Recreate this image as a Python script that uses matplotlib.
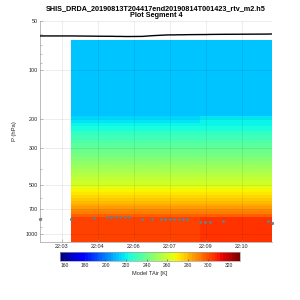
import numpy as np
import matplotlib
matplotlib.use("Agg")
import matplotlib.pyplot as plt
from matplotlib.ticker import FixedLocator, NullFormatter

plt.rcParams['font.family'] = ['Liberation Sans', 'DejaVu Sans']

# profile times, minutes after 22:00
t_min = [2.10, 3.40, 4.35, 4.89, 5.075, 5.26, 5.45, 5.64, 5.82, 6.37, 6.76, 7.14,
         7.32, 7.50, 7.68, 7.875, 8.05, 8.23, 8.78, 8.98, 9.17, 9.73, 11.60, 11.77]
# surface pressure (gray dots)
p_sfc = [813, 812, 795, 784, 784, 784, 784, 784, 784, 802, 802, 802,
         802, 802, 802, 813, 813, 813, 845, 845, 845, 830, 825, 857]
# black line at top
p_line = [62.0, 62.0, 62.2, 62.3, 62.3, 62.4, 62.4, 62.5, 62.5, 62.4, 61.8, 61.4,
          61.2, 61.1, 61.1, 61.0, 61.0, 60.9, 60.8, 60.8, 60.7, 60.6, 60.4, 60.3]

# model pressure level edges (hPa)
p_edges = [66, 75, 90, 105, 118, 135, 160, 190, 200, 210, 220, 235, 250, 265, 280, 300,
           320, 340, 360, 380, 400, 425, 450, 475, 500, 525, 550, 575, 600, 625, 650,
           675, 700, 725, 750, 780, 1150]

# model air temperature profiles (K), one per model column
t_a = [210.5, 210.5, 211, 211, 212.5, 212.5, 212.5, 215, 218, 221, 224, 227, 230, 233, 236,
       239, 242, 245, 247.5, 250, 253, 256, 259, 262, 265, 268, 271, 274, 277, 280, 283,
       286, 289, 292, 296, 303]
t_b = [210.5, 210.5, 211, 211, 212.5, 212.5, 212.5, 215, 218, 221, 224, 227, 230, 233, 236,
       239, 242, 245, 247.5, 250, 253, 256, 259, 262, 265, 268, 271, 274, 277, 280, 283,
       286, 289, 292, 296, 301]
t_c = [210.5, 210.5, 210.5, 210.5, 210.5, 212.5, 212.5, 215, 218, 221, 224, 227, 230, 233, 236,
       239, 242, 245, 247.5, 250, 253, 256, 259, 262, 265, 268, 271, 274, 277, 280, 283,
       286, 289, 292, 296, 303]
t_d = [210.5, 210.5, 210.5, 210.5, 210.5, 212.5, 212.5, 217, 219, 221, 224, 227, 230, 233, 236,
       239, 242, 245, 247.5, 250, 253, 256, 259, 262, 265, 268, 271, 274, 277, 280, 283,
       286, 289, 292, 297, 304]
# which model column each profile interval uses (first interval has no data)
col_group = [None, 'a', 'a', 'b', 'b', 'b', 'b', 'b', 'b', 'c', 'c', 'c',
             'c', 'c', 'c', 'c', 'c', 'c', 'd', 'd', 'd', 'd', 'd']

profiles = {'a': t_a, 'b': t_b, 'c': t_c, 'd': t_d}
C = np.full((len(p_edges) - 1, len(t_min) - 1), np.nan)
for i, g in enumerate(col_group):
    if g is not None:
        C[:, i] = profiles[g]

xt = [3, 4.5, 6, 7.5, 9, 10.5]
xtl = ['22:03', '22:04', '22:06', '22:07', '22:09', '22:10']
yt = [50, 100, 200, 300, 500, 700, 1000]
cb_ticks = [160, 180, 200, 220, 240, 260, 280, 300, 320]

txt = '#262626'
fig = plt.figure(figsize=(3, 3), dpi=100)
ax = fig.add_axes([40 / 300, 1 - 241.7 / 300, 232 / 300, 221.1 / 300])

cmap = plt.get_cmap('jet', 64)
mesh = ax.pcolormesh(t_min, p_edges, C, cmap=cmap, vmin=155.8, vmax=330.7, shading='flat')
ax.plot(t_min, p_line, color='black', lw=1.0, zorder=3)
ax.plot(t_min, p_sfc, 'o', color='#808080', ms=2.0, mec='#707070', mew=0.3, zorder=4,
        clip_on=False)

ax.set_yscale('log')
ax.set_ylim(1110, 50)
ax.set_xlim(t_min[0], t_min[-1])
ax.yaxis.set_major_locator(FixedLocator(yt))
ax.set_yticklabels([str(v) for v in yt])
ax.yaxis.set_minor_locator(FixedLocator([60, 70, 80, 90, 400, 600, 800, 900]))
ax.yaxis.set_minor_formatter(NullFormatter())
ax.set_xticks(xt)
ax.set_xticklabels(xtl)

for s in ['top', 'right']:
    ax.spines[s].set_visible(False)
for s in ['left', 'bottom']:
    ax.spines[s].set_color('#b0b0b0')
    ax.spines[s].set_linewidth(0.6)
ax.tick_params(direction='in', labelsize=3.9, colors='#909090', labelcolor=txt,
               length=2, width=0.4, pad=1.5)
ax.tick_params(axis='y', which='minor', direction='in', length=1.2, width=0.4,
               colors='#909090')
ax.grid(True, which='major', color='black', alpha=0.1, lw=0.5)
ax.set_axisbelow(False)
ax.set_ylabel('P (hPa)', fontsize=4.2, color=txt, labelpad=6)
ax.set_title('SHIS_DRDA_20190813T204417end20190814T001423_rtv_m2.h5\nPlot Segment 4',
             fontsize=5.2, fontweight='bold', color='black', pad=2.5, linespacing=1.05)

cax = fig.add_axes([60 / 300, 1 - 260.7 / 300, 180 / 300, 8.4 / 300])
cb = fig.colorbar(mesh, cax=cax, orientation='horizontal')
cb.set_ticks(cb_ticks)
cb.ax.tick_params(labelsize=3.6, direction='in', length=1.5, width=0.4, colors='#404040',
                  labelcolor=txt, pad=1.5)
cb.outline.set_edgecolor('#a0a0a0')
cb.outline.set_linewidth(0.5)
cb.set_label('Model TAir [K]', fontsize=4.1, color=txt, labelpad=2)

fig.savefig('out.png', dpi=100)
